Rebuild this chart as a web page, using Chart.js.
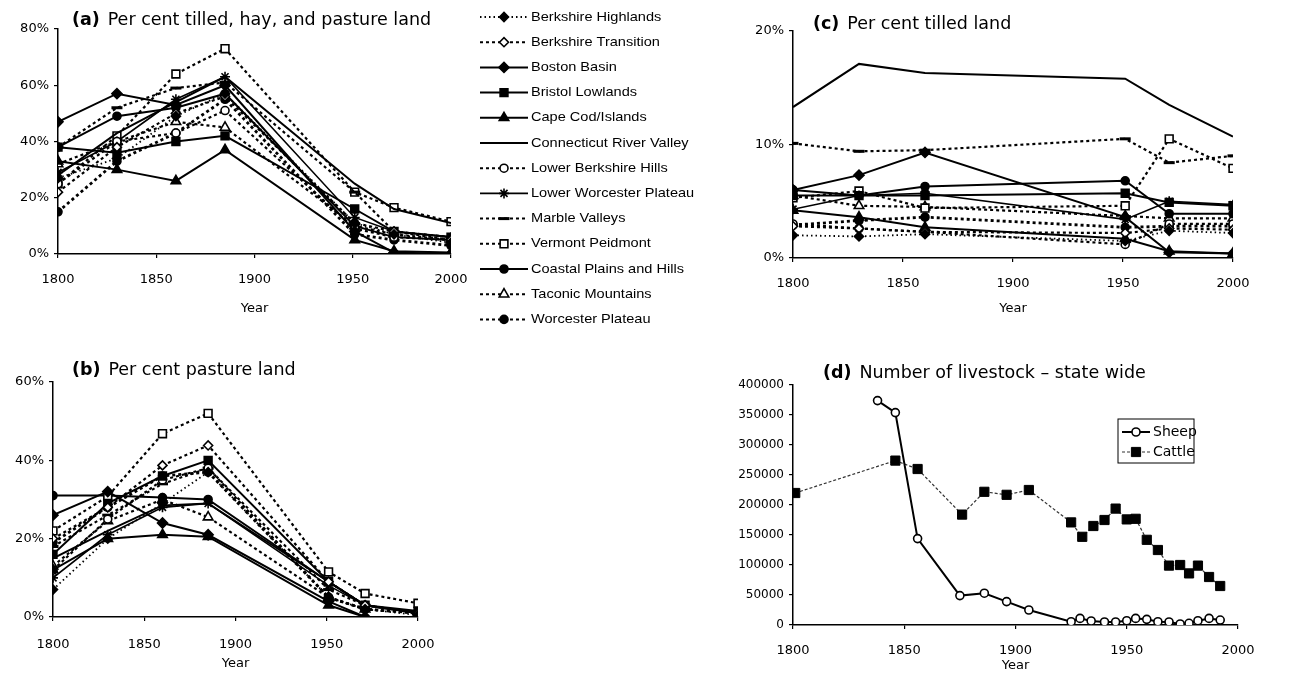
<!DOCTYPE html>
<html>
<head>
<meta charset="utf-8">
<script src="https://cdn.jsdelivr.net/npm/chart.js@4.4.1/dist/chart.umd.min.js"></script>
<style>
html, body { margin: 0; padding: 0; background: #fff; }
body { width: 1298px; height: 673px; position: relative; overflow: hidden; }
.panel { position: absolute; }
</style>
</head>
<body>
<div class="panel" style="left:0;top:0;width:710px;height:332px"><canvas id="chartA"></canvas></div>
<div class="panel" style="left:0;top:340px;width:470px;height:333px"><canvas id="chartB"></canvas></div>
<div class="panel" style="left:720px;top:0;width:560px;height:322px"><canvas id="chartC"></canvas></div>
<div class="panel" style="left:720px;top:350px;width:560px;height:323px"><canvas id="chartD"></canvas></div>
<script>
"use strict";

// ---- data ----
const regions = ["Berkshire Highlands", "Berkshire Transition", "Boston Basin", "Bristol Lowlands",
	"Cape Cod/Islands", "Connecticut River Valley", "Lower Berkshire Hills", "Lower Worcester Plateau",
	"Marble Valleys", "Vermont Peidmont", "Coastal Plains and Hills", "Taconic Mountains", "Worcester Plateau"];

const landYears = [1800, 1830, 1860, 1885, 1951, 1971, 2000];
const tilledYears = [1800, 1830, 1860, 1951, 1971, 2000];

// (a) percent tilled, hay and pasture land, one row per region (same order as regions)
const totalPct = [
	[27, 34, 49, 57, 11, 7, 4],
	[22, 38, 50, 56, 11, 8, 5],
	[47, 57, 53, 60, 8, 0.5, 0],
	[38, 36, 40, 42, 16, 8, 6],
	[33, 30, 26, 37, 5, 1, 0.5],
	[28, 43, 54, 63, 25, 16, 11],
	[25, 40, 43, 51, 9, 6, 5],
	[29, 40, 55, 63, 13, 8, 6],
	[38, 52, 59, 61, 22, 8, 6],
	[25, 42, 64, 73, 22, 16.5, 11.5],
	[38, 49, 52, 57, 10, 6, 5],
	[32, 40, 47, 45, 10, 7, 5],
	[15, 33, 43, 55, 7, 5, 3],
];

// (b) percent pasture land
const pasturePct = [
	[7, 20, 29, 37, 5, 2, 0.5],
	[20, 28, 38.7, 43.8, 9, 3, 1],
	[26, 32, 24, 21, 4, 0, 0],
	[16, 29, 36, 40, 9, 3, 1.5],
	[12, 20, 21, 20.5, 3, 0, 0],
	[15, 22, 28.5, 29, 9, 3, 1],
	[12, 25, 35, 38, 5, 2, 1],
	[10, 21, 28, 29, 8, 3, 1],
	[18, 26, 34, 38, 7, 3, 1],
	[22, 30.8, 46.8, 52, 11.5, 6, 3.5],
	[31, 31, 30.5, 30, 9, 3, 1],
	[13, 24.5, 30, 25.5, 5, 2, 1],
	[19, 28, 36, 37, 5, 2, 1],
];

// (c) percent tilled land
const tilledPct = [
	[2.0, 1.9, 2.1, 1.5, 2.4, 2.2],
	[2.8, 2.6, 2.3, 2.2, 2.6, 2.5],
	[6.0, 7.3, 9.3, 3.6, 0.5, 0.4],
	[5.5, 5.5, 5.5, 5.7, 4.9, 4.6],
	[4.2, 3.6, 2.7, 1.7, 0.6, 0.4],
	[13.3, 17.1, 16.3, 15.8, 13.5, 10.7],
	[3.0, 2.6, 2.3, 1.2, 3.0, 3.0],
	[4.3, 5.5, 5.7, 3.4, 5.0, 4.7],
	[10.1, 9.4, 9.5, 10.5, 8.4, 9.0],
	[5.3, 5.9, 4.4, 4.6, 10.5, 7.9],
	[6.0, 5.5, 6.3, 6.8, 3.9, 3.9],
	[5.5, 4.6, 4.5, 3.7, 3.5, 3.5],
	[2.9, 3.3, 3.6, 2.7, 2.8, 2.8],
];

// (d) livestock, state wide
const sheepYears = [1838, 1846, 1856, 1875, 1886, 1896, 1906, 1925, 1929, 1934, 1940, 1945, 1950, 1954, 1959, 1964, 1969, 1974, 1978, 1982, 1987, 1992];
const sheepCount = [374000, 354000, 144000, 49000, 53000, 39000, 25000, 5500, 11000, 6700, 5000, 5000, 7200, 11000, 9400, 5500, 5000, 1700, 2800, 7200, 11000, 8300];
const cattleYears = [1801, 1846, 1856, 1876, 1886, 1896, 1906, 1925, 1930, 1935, 1940, 1945, 1950, 1954, 1959, 1964, 1969, 1974, 1978, 1982, 1987, 1992];
const cattleCount = [220000, 274000, 260000, 184000, 222000, 217000, 225000, 171000, 147000, 165000, 175000, 194000, 176000, 177000, 142000, 125000, 99000, 100000, 86000, 99000, 80000, 65000];

// ---- looks ----
const FONT = '"DejaVu Sans", "Liberation Sans", Arial, sans-serif';
const LEGEND_FONT = '"Liberation Sans", Arial, sans-serif';
const DOTTED = [1.5, 3];
const DASHED = [3, 3];
const regionLook = [
	{ dash: DOTTED, width: 1.8, marker: "rectRot", open: false, r: 4.5 },
	{ dash: DASHED, width: 2.2, marker: "rectRot", open: true, r: 4.5 },
	{ dash: [], width: 2, marker: "rectRot", open: false, r: 5 },
	{ dash: [], width: 2, marker: "rect", open: false, r: 5.5 },
	{ dash: [], width: 2, marker: "triangle", open: false, r: 5.5 },
	{ dash: [], width: 2, marker: false, open: false, r: 0 },
	{ dash: DASHED, width: 2.2, marker: "circle", open: true, r: 4 },
	{ dash: [], width: 1.6, marker: "star", open: false, r: 5 },
	{ dash: DASHED, width: 2.2, marker: "line", open: false, r: 5.5 },
	{ dash: DASHED, width: 2.2, marker: "rect", open: true, r: 5.5 },
	{ dash: [], width: 2, marker: "circle", open: false, r: 4 },
	{ dash: DASHED, width: 2.2, marker: "triangle", open: true, r: 5.5 },
	{ dash: DASHED, width: 2.8, marker: "circle", open: false, r: 4 },
];

function regionSets(years, rows) {
	return rows.map((row, i) => {
		const look = regionLook[i];
		return {
			label: regions[i],
			data: row.map((v, j) => ({ x: years[j], y: v })),
			borderColor: "#000",
			borderWidth: look.width,
			borderDash: look.dash,
			pointStyle: look.marker,
			pointRadius: look.marker ? look.r : 0,
			pointBackgroundColor: look.open ? "#fff" : "#000",
			pointBorderColor: "#000",
			pointBorderWidth: look.marker === "line" ? 3 : 1.6,
			tension: 0,
		};
	});
}

const panelTitle = {
	id: "panelTitle",
	afterDraw(chart, args, opts) {
		const ctx = chart.ctx;
		ctx.save();
		ctx.fillStyle = "#000";
		ctx.textBaseline = "alphabetic";
		ctx.font = `bold ${opts.size}px ${FONT}`;
		ctx.fillText(opts.tag, opts.x, opts.y);
		const w = ctx.measureText(opts.tag).width + opts.size * 0.45;
		ctx.font = `${opts.size}px ${FONT}`;
		ctx.fillText(opts.text, opts.x + w, opts.y);
		ctx.restore();
	}
};

// legend with a line sample and marker for each dataset
// (the scanned lettering is a bit wide, so the text gets stretched sideways)
const lineLegend = {
	id: "lineLegend",
	afterDraw(chart, args, opts) {
		if (!opts.show) {
			return;
		}
		const ctx = chart.ctx;
		ctx.save();
		if (opts.box) {
			ctx.strokeStyle = "#000";
			ctx.lineWidth = 1;
			ctx.strokeRect(opts.box[0], opts.box[1], opts.box[2], opts.box[3]);
		}
		chart.data.datasets.forEach((ds, i) => {
			const y = opts.y + i * opts.rowHeight;
			const x0 = opts.x;
			const x1 = opts.x + opts.sampleWidth;
			ctx.strokeStyle = ds.borderColor;
			ctx.lineWidth = Math.min(ds.borderWidth, 2);
			ctx.setLineDash(ds.borderDash || []);
			ctx.beginPath();
			ctx.moveTo(x0, y);
			ctx.lineTo(x1, y);
			ctx.stroke();
			ctx.setLineDash([]);
			if (ds.pointStyle && ds.pointRadius > 0) {
				ctx.fillStyle = ds.pointBackgroundColor;
				ctx.strokeStyle = ds.pointBorderColor;
				ctx.lineWidth = ds.pointBorderWidth;
				Chart.helpers.drawPoint(ctx, {
					pointStyle: ds.pointStyle,
					radius: ds.pointRadius,
					rotation: 0,
					borderWidth: ds.pointBorderWidth,
				}, (x0 + x1) / 2, y);
			}
			ctx.save();
			ctx.translate(x1 + opts.gap, y);
			ctx.scale(opts.stretch || 1, 1);
			ctx.fillStyle = "#000";
			ctx.font = opts.font;
			ctx.textBaseline = "middle";
			ctx.textAlign = "left";
			ctx.fillText(ds.label, 0, 0);
			ctx.restore();
		});
		ctx.restore();
	}
};

function yearAxis(height, tickPad, titleBottom) {
	return {
		type: "linear",
		min: 1800,
		max: 2000,
		afterFit: s => { s.height = height; },
		border: { color: "#000", width: 1.5 },
		grid: { drawOnChartArea: false, drawTicks: true, tickLength: 4, color: "#000", lineWidth: 1.2 },
		ticks: {
			stepSize: 50,
			color: "#000",
			padding: tickPad,
			maxRotation: 0,
			font: { family: FONT, size: 13 },
			callback: v => String(v),
		},
		title: {
			display: true,
			text: "Year",
			color: "#000",
			font: { family: FONT, size: 13 },
			padding: { top: 0, bottom: titleBottom },
		},
	};
}

function valueAxis(max, step, width, fmt, size) {
	return {
		type: "linear",
		min: 0,
		max: max,
		afterFit: s => { s.width = width; },
		border: { color: "#000", width: 1.5 },
		grid: { drawOnChartArea: false, drawTicks: true, tickLength: 4, color: "#000", lineWidth: 1.2 },
		ticks: {
			stepSize: step,
			color: "#000",
			padding: 5,
			font: { family: FONT, size: size },
			callback: fmt,
		},
	};
}

function baseOptions(pad, xAxis, yAxis, title, legend) {
	return {
		responsive: true,
		maintainAspectRatio: false,
		animation: false,
		layout: { padding: pad },
		scales: { x: xAxis, y: yAxis },
		plugins: {
			legend: { display: false },
			tooltip: { enabled: false },
			panelTitle: title,
			lineLegend: legend,
		},
	};
}

const pct = v => v + "%";

new Chart(document.getElementById("chartA"), {
	type: "line",
	data: { datasets: regionSets(landYears, totalPct) },
	options: baseOptions(
		{ left: 0, right: 259, top: 29, bottom: 0 },
		yearAxis(78, 14, 16),
		valueAxis(80, 20, 58, pct, 13),
		{ tag: "(a)", text: "Per cent tilled, hay, and pasture land", x: 72, y: 25, size: 17.5 },
		{ show: true, x: 480, y: 17, rowHeight: 25.2, sampleWidth: 48, gap: 3, stretch: 1.12, font: `13px ${LEGEND_FONT}` }
	),
	plugins: [panelTitle, lineLegend],
});

new Chart(document.getElementById("chartB"), {
	type: "line",
	data: { datasets: regionSets(landYears, pasturePct) },
	options: baseOptions(
		{ left: 0, right: 52, top: 42, bottom: 0 },
		yearAxis(56, 16, 2),
		valueAxis(60, 20, 53, pct, 13),
		{ tag: "(b)", text: "Per cent pasture land", x: 72, y: 35, size: 17.5 },
		{ show: false }
	),
	plugins: [panelTitle, lineLegend],
});

new Chart(document.getElementById("chartC"), {
	type: "line",
	data: { datasets: regionSets(tilledYears, tilledPct) },
	options: baseOptions(
		{ left: 0, right: 47, top: 31, bottom: 0 },
		yearAxis(64, 14, 6),
		valueAxis(20, 10, 73, pct, 13),
		{ tag: "(c)", text: "Per cent tilled land", x: 93, y: 29, size: 17.5 },
		{ show: false }
	),
	plugins: [panelTitle, lineLegend],
});

new Chart(document.getElementById("chartD"), {
	type: "line",
	data: {
		datasets: [
			{
				label: "Sheep",
				data: sheepCount.map((v, i) => ({ x: sheepYears[i], y: v })),
				borderColor: "#000",
				borderWidth: 2,
				pointStyle: "circle",
				pointRadius: 4,
				pointBackgroundColor: "#fff",
				pointBorderColor: "#000",
				pointBorderWidth: 1.6,
				tension: 0,
			},
			{
				label: "Cattle",
				data: cattleCount.map((v, i) => ({ x: cattleYears[i], y: v })),
				borderColor: "#333",
				borderWidth: 1.2,
				borderDash: [3, 2],
				pointStyle: "rect",
				pointRadius: 6.5,
				pointBackgroundColor: "#000",
				pointBorderColor: "#000",
				pointBorderWidth: 1,
				tension: 0,
			},
		],
	},
	options: baseOptions(
		{ left: 0, right: 42, top: 35, bottom: 0 },
		yearAxis(48, 14, 0),
		valueAxis(400000, 50000, 73, v => String(v), 12),
		{ tag: "(d)", text: "Number of livestock \u2013 state wide", x: 103, y: 28, size: 17.5 },
		{ show: true, x: 402, y: 82, rowHeight: 20, sampleWidth: 28, gap: 3, stretch: 1, font: `14px ${FONT}`, box: [398, 69, 76, 44] }
	),
	plugins: [panelTitle, lineLegend],
});
</script>
</body>
</html>
